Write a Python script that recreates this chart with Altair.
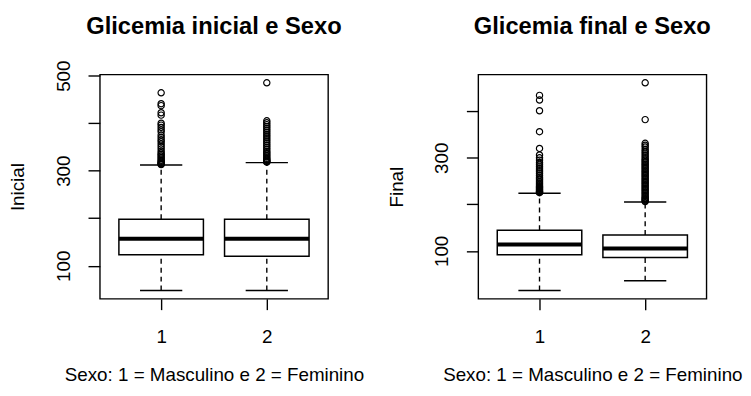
import altair as alt
import pandas as pd

grupos = [1, 2]

# Glicemia inicial (por sexo)
ini_lo = [48, 48]
ini_q1 = [123, 120]
ini_med = [157, 157]
ini_q3 = [198, 198]
ini_hi = [312, 317]
ini_out_1 = [464, 441, 437, 422, 417, 400, 396, 391, 386, 382, 375, 370, 365,
             361, 356, 351, 346, 341, 337, 334, 331, 328, 325, 322, 320, 318,
             316, 315, 314, 313]
ini_out_2 = [485, 405, 401, 397, 393, 389, 385, 381, 377, 373, 369, 365, 361,
             357, 353, 349, 345, 341, 338, 335, 332, 329, 326, 324, 322, 320,
             319, 318]

# Glicemia final (por sexo)
fin_lo = [15, 36]
fin_q1 = [91.5, 86]
fin_med = [113.6, 105]
fin_q3 = [144.5, 134]
fin_hi = [223.7, 205]
fin_out_1 = [434, 424, 401, 356, 320, 306, 300, 295, 290, 286, 282, 278, 274,
             270, 266, 262, 258, 255, 252, 249, 246, 243, 240, 238, 236, 234,
             232, 230, 228, 227, 226, 225]
fin_out_2 = [461, 382, 331, 327, 323, 318, 314, 310, 306, 302, 298, 295, 292,
             289, 286, 283, 280, 277, 274, 271, 268, 265, 262, 259, 256, 253,
             250, 247, 244, 241, 238, 235, 232, 229, 226, 223, 220, 217, 214,
             212, 210, 208, 206]

y_ticks = [100, 200, 300, 400, 500]
x_title = "Sexo: 1 = Masculino e 2 = Feminino"
FONT = "Liberation Sans"


def painel(titulo, ytitle, lo, q1, med, q3, hi, out1, out2, toff):
    resumo = pd.DataFrame({"g": grupos, "lo": lo, "q1": q1, "med": med,
                           "q3": q3, "hi": hi})
    outl = pd.DataFrame({"g": [1] * len(out1) + [2] * len(out2),
                         "v": out1 + out2})
    allv = lo + hi + out1 + out2
    vmin, vmax = min(allv), max(allv)
    ext = 0.04 * (vmax - vmin)
    yscale = alt.Scale(domain=[vmin - ext, vmax + ext], nice=False, zero=False)
    xscale = alt.Scale(domain=[0.42, 2.58], nice=False, zero=False)
    xaxis = alt.Axis(values=grupos, format="d", title=x_title, tickSize=11,
                     labelPadding=18, titlePadding=20, domain=False, grid=False,
                     labelFontSize=19, titleFontSize=19, tickColor="black",
                     tickWidth=1.4, labelColor="black", titleColor="black",
                     titleFontWeight="normal", labelFont=FONT, titleFont=FONT)
    yaxis = alt.Axis(values=y_ticks, title=ytitle, tickSize=12, labelPadding=15,
                     titlePadding=27, domain=False, grid=False,
                     labelExpr="datum.value % 200 == 100 ? datum.label : ''",
                     labelAngle=270, labelAlign="center", labelBaseline="bottom",
                     labelFontSize=19, titleFontSize=19, tickColor="black",
                     tickWidth=1.4, labelColor="black", titleColor="black",
                     titleFontWeight="normal", labelFont=FONT, titleFont=FONT)

    def X(f):
        return alt.X(f, type="quantitative", scale=xscale, axis=xaxis)

    def Y(f):
        return alt.Y(f, type="quantitative", scale=yscale, axis=yaxis)

    base = alt.Chart(resumo).transform_calculate(
        xl="datum.g - 0.4", xr="datum.g + 0.4",
        cl="datum.g - 0.2", cr="datum.g + 0.2")

    dash = [5, 4]
    w_lo = base.mark_rule(color="black", strokeWidth=1.4, strokeDash=dash).encode(
        x=X("g"), y=Y("lo"), y2="q1:Q")
    w_hi = base.mark_rule(color="black", strokeWidth=1.4, strokeDash=dash).encode(
        x=X("g"), y=Y("q3"), y2="hi:Q")
    c_lo = base.mark_rule(color="black", strokeWidth=1.4).encode(
        x=X("cl"), x2="cr:Q", y=Y("lo"))
    c_hi = base.mark_rule(color="black", strokeWidth=1.4).encode(
        x=X("cl"), x2="cr:Q", y=Y("hi"))
    box = base.mark_rect(fill="white", stroke="black", strokeWidth=1.5).encode(
        x=X("xl"), x2="xr:Q", y=Y("q1"), y2="q3:Q")
    mediana = base.mark_rule(color="black", strokeWidth=4).encode(
        x=X("xl"), x2="xr:Q", y=Y("med"))
    pts = alt.Chart(outl).mark_point(shape="circle", filled=False, color="black",
                                     size=40, strokeWidth=1.2, opacity=1).encode(
        x=X("g"), y=Y("v"))

    return alt.layer(w_lo, w_hi, c_lo, c_hi, box, mediana, pts).properties(
        width=231, height=227,
        title=alt.TitleParams(titulo, fontSize=24, fontWeight="bold", font=FONT,
                              color="black", anchor="middle", frame="group",
                              baseline="alphabetic", offset=toff))


esq = painel("Glicemia inicial e Sexo", "Inicial", ini_lo, ini_q1, ini_med,
             ini_q3, ini_hi, ini_out_1, ini_out_2, 2)
dir_ = painel("Glicemia final e Sexo", "Final", fin_lo, fin_q1, fin_med,
              fin_q3, fin_hi, fin_out_1, fin_out_2, 17)

chart = alt.hconcat(esq, dir_, spacing=22).resolve_scale(
    x="independent", y="independent").properties(
    padding={"left": 0, "top": 4, "right": 0, "bottom": 0}
).configure_view(stroke="black", strokeWidth=1.4)

chart.save("out.html", embed_options={"renderer": "svg", "actions": False})
